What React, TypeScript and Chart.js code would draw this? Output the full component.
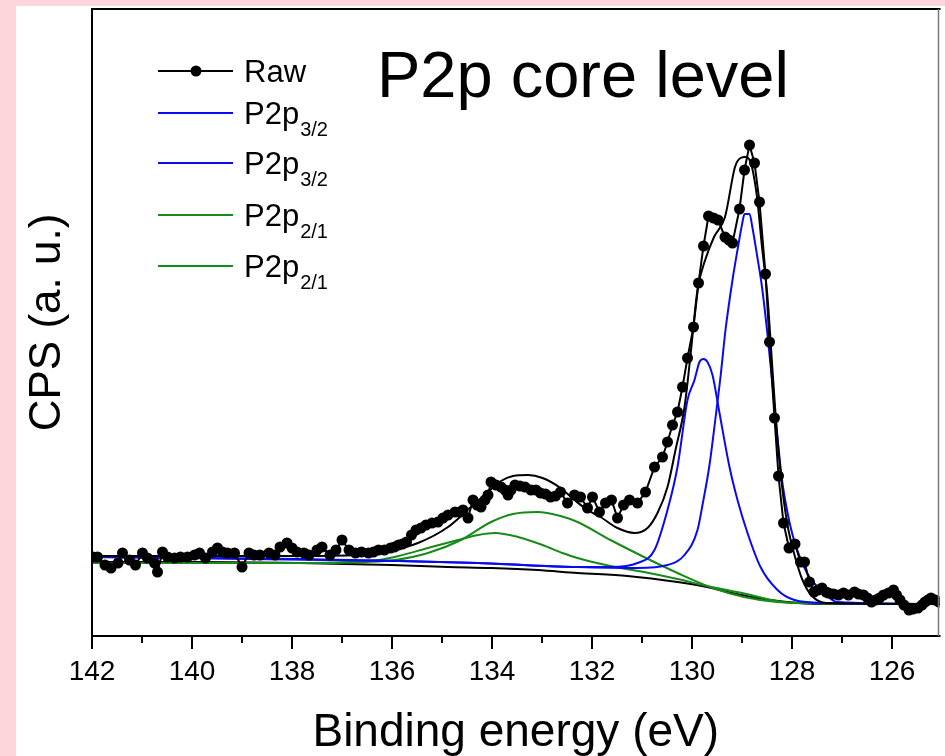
import React, { useEffect, useRef } from 'react';
import { Chart, registerables } from 'chart.js';

Chart.register(...registerables);

const FONT = '"Liberation Sans", Arial, Helvetica, sans-serif';

// X axis labels (binding energy, eV)
const majorTicks = [142, 140, 138, 136, 134, 132, 130, 128, 126];
const xMin = 125.05;
const xMax = 142;
const yMin = 0;
const yMax = 627;

// Raw spectrum
const rawEnergy = [141.98, 141.89, 141.74, 141.62, 141.48, 141.39, 141.25, 141.13, 140.99, 140.89, 140.75, 140.69, 140.59, 140.49, 140.35, 140.23, 140.09, 139.95, 139.85, 139.73, 139.59, 139.49, 139.39, 139.29, 139.15, 139.00, 138.86, 138.76, 138.64, 138.46, 138.34, 138.24, 138.10, 138.00, 137.90, 137.76, 137.66, 137.50, 137.40, 137.24, 137.12, 137.00, 136.86, 136.73, 136.61, 136.47, 136.37, 136.27, 136.15, 136.03, 135.95, 135.87, 135.79, 135.71, 135.61, 135.52, 135.42, 135.32, 135.20, 135.08, 134.98, 134.88, 134.74, 134.64, 134.58, 134.48, 134.38, 134.30, 134.22, 134.14, 134.08, 134.02, 133.92, 133.82, 133.74, 133.68, 133.62, 133.54, 133.44, 133.34, 133.22, 133.12, 133.03, 132.93, 132.83, 132.73, 132.63, 132.49, 132.35, 132.23, 132.09, 131.99, 131.85, 131.73, 131.61, 131.49, 131.37, 131.25, 131.09, 130.93, 130.75, 130.59, 130.49, 130.39, 130.29, 130.19, 130.09, 129.97, 129.87, 129.77, 129.67, 129.57, 129.48, 129.34, 129.26, 129.19, 129.05, 128.95, 128.85, 128.75, 128.65, 128.53, 128.45, 128.35, 128.27, 128.17, 128.06, 127.94, 127.83, 127.75, 127.65, 127.56, 127.48, 127.40, 127.32, 127.27, 127.17, 127.07, 126.97, 126.87, 126.75, 126.67, 126.57, 126.49, 126.41, 126.33, 126.25, 126.17, 126.07, 125.97, 125.91, 125.84, 125.76, 125.66, 125.58, 125.48, 125.40, 125.34, 125.28, 125.22, 125.14, 125.06];
const rawCPS = [79, 79, 71, 68, 73, 83, 76, 71, 83, 78, 73, 64, 84, 79, 78, 79, 79, 81, 83, 78, 84, 88, 84, 83, 83, 69, 83, 81, 81, 83, 81, 89, 93, 88, 84, 83, 81, 86, 89, 81, 86, 96, 86, 83, 84, 83, 84, 86, 86, 88, 89, 91, 92, 94, 101, 106, 108, 111, 113, 114, 118, 121, 124, 124, 126, 118, 136, 131, 129, 136, 141, 154, 151, 149, 146, 141, 146, 151, 150, 149, 146, 146, 143, 142, 139, 140, 144, 133, 141, 139, 128, 139, 124, 133, 136, 118, 131, 136, 133, 144, 169, 179, 194, 211, 224, 249, 278, 309, 353, 390, 420, 418, 416, 399, 396, 393, 427, 466, 491, 473, 434, 362, 294, 218, 160, 113, 88, 92, 74, 74, 54, 44, 46, 48, 44, 43, 42, 41, 43, 41, 44, 42, 41, 38, 34, 36, 38, 41, 43, 46, 41, 36, 31, 26, 27, 28, 31, 34, 36, 38, 36, 34];

// Fit envelope
const envEnergy = [142.0, 137.87, 136.67, 136.07, 135.48, 134.88, 134.38, 134.08, 133.82, 133.58, 133.28, 132.99, 132.63, 132.35, 132.09, 131.83, 131.49, 131.15, 130.89, 130.69, 130.49, 130.33, 130.15, 130.04, 129.89, 129.75, 129.56, 129.34, 129.14, 129.03, 128.93, 128.83, 128.70, 128.60, 128.49, 128.39, 128.29, 128.19, 128.09, 127.95, 127.79, 127.60, 127.31, 125.0];
const envCPS = [80, 80, 81, 85, 93, 109, 131, 144, 155, 160, 161, 158, 148, 136, 126, 119, 108, 103, 108, 123, 149, 186, 229, 276, 346, 374, 399, 419, 469, 478, 479, 474, 439, 389, 339, 266, 196, 146, 111, 81, 56, 40, 33, 32];

// Background
const bgEnergy = [142.0, 139.86, 137.87, 136.01, 134.88, 134.02, 133.09, 132.29, 131.29, 130.29, 129.70, 129.29, 128.70, 128.10, 127.51, 125.0];
const bgCPS = [74, 74, 73, 71, 69, 68, 66, 63, 60, 54, 49, 44, 38, 34, 32, 32];

// P2p 3/2 component (main, ~129.0 eV)
const p32aEnergy = [142.0, 135.87, 134.28, 132.29, 131.09, 130.49, 130.15, 129.89, 129.79, 129.65, 129.53, 129.43, 129.33, 129.19, 129.09, 128.99, 128.95, 128.85, 128.79, 128.70, 128.60, 128.50, 128.40, 128.30, 128.20, 128.08, 127.96, 127.70, 127.36, 127.10, 125.0];
const p32aCPS = [79, 75, 73, 69, 68, 71, 81, 106, 131, 171, 218, 259, 306, 356, 386, 414, 422, 422, 408, 381, 349, 306, 256, 204, 156, 121, 96, 63, 43, 34, 32];

// P2p 3/2 component (second, ~129.8 eV)
const p32bEnergy = [142.0, 137.87, 135.87, 134.28, 132.29, 131.63, 131.09, 130.75, 130.49, 130.29, 130.09, 129.95, 129.85, 129.77, 129.69, 129.59, 129.45, 129.25, 129.09, 128.89, 128.63, 128.29, 127.95, 127.31, 125.0];
const p32bCPS = [79, 77, 75, 73, 69, 69, 73, 86, 126, 169, 236, 256, 274, 277, 274, 261, 223, 169, 136, 103, 69, 46, 36, 33, 32];

// P2p 2/1 component (~133.0 eV)
const p21aEnergy = [142.0, 137.27, 136.61, 135.94, 135.28, 134.62, 134.02, 133.58, 133.09, 132.63, 132.29, 131.63, 130.96, 130.29, 129.64, 128.96, 128.30, 127.64, 125.0];
const p21aCPS = [73, 73, 74, 76, 83, 96, 114, 122, 124, 120, 114, 96, 79, 63, 49, 39, 34, 33, 32];

// P2p 2/1 component (~133.9 eV)
const p21bEnergy = [142.0, 137.87, 136.87, 136.27, 135.87, 135.28, 134.68, 134.28, 133.94, 133.48, 132.99, 132.59, 132.29, 131.63, 130.96, 130.29, 129.70, 129.0, 128.0, 125.0];
const p21bCPS = [73, 73, 74, 76, 80, 88, 96, 101, 103, 99, 91, 83, 78, 70, 64, 57, 50, 43, 33, 32];

const legendLabels = ['Raw', 'P2p', 'P2p', 'P2p', 'P2p'];
const legendSubs = ['', '3/2', '3/2', '2/1', '2/1'];
const legendColors = ['#000000', '#0a0aee', '#0a0aee', '#178a17', '#178a17'];
const chartTitle = 'P2p core level';

const pts = (xs: number[], ys: number[]) => xs.map((x, i) => ({ x, y: ys[i] }));

const overlayPlugin = {
  id: 'overlay',
  afterDraw(chart: any) {
    const ctx = chart.ctx;
    const area = chart.chartArea;
    const xs = chart.scales.x;
    ctx.save();
    // frame
    ctx.strokeStyle = '#000';
    ctx.lineWidth = 2;
    ctx.beginPath();
    ctx.moveTo(area.left, area.top);
    ctx.lineTo(area.left, area.bottom);
    ctx.moveTo(area.left - 1, area.bottom);
    ctx.lineTo(area.right + 1, area.bottom);
    ctx.moveTo(area.left - 1, area.top);
    ctx.lineTo(area.right + 1, area.top);
    ctx.stroke();
    ctx.strokeStyle = '#777';
    ctx.lineWidth = 1.5;
    ctx.beginPath();
    ctx.moveTo(area.right - 1, area.top);
    ctx.lineTo(area.right - 1, area.bottom);
    ctx.stroke();
    // ticks
    ctx.strokeStyle = '#000';
    ctx.lineWidth = 2;
    ctx.beginPath();
    for (let v = Math.ceil(xMin); v <= xMax; v++) {
      const px = Math.round(xs.getPixelForValue(v));
      const len = majorTicks.includes(v) ? 13 : 7;
      ctx.moveTo(px, area.bottom);
      ctx.lineTo(px, area.bottom + len);
    }
    ctx.stroke();

    // title inside plot
    ctx.fillStyle = '#000';
    ctx.textBaseline = 'alphabetic';
    ctx.textAlign = 'left';
    ctx.font = `65px ${FONT}`;
    ctx.fillText(chartTitle, 377, 97);

    // legend
    const rows = [71, 113, 163, 215, 266];
    for (let i = 0; i < legendLabels.length; i++) {
      const y = rows[i];
      ctx.strokeStyle = legendColors[i];
      ctx.lineWidth = 2;
      ctx.beginPath();
      ctx.moveTo(158, y);
      ctx.lineTo(233, y);
      ctx.stroke();
      if (i === 0) {
        ctx.fillStyle = '#000';
        ctx.beginPath();
        ctx.arc(196, y, 5.5, 0, Math.PI * 2);
        ctx.fill();
      }
      ctx.fillStyle = '#000';
      ctx.font = `31px ${FONT}`;
      ctx.fillText(legendLabels[i], 244, y + 11);
      if (legendSubs[i]) {
        const w = ctx.measureText(legendLabels[i]).width;
        ctx.font = `20px ${FONT}`;
        ctx.fillText(legendSubs[i], 244 + w + 1, y + 23);
      }
    }
    ctx.restore();
  },
};

export default function App() {
  const canvasRef = useRef<HTMLCanvasElement | null>(null);

  useEffect(() => {
    const canvas = canvasRef.current;
    if (!canvas) return;
    const lineDs = (label: string, xs: number[], ys: number[], color: string) => ({
      label,
      data: pts(xs, ys),
      borderColor: color,
      backgroundColor: color,
      borderWidth: 2,
      pointRadius: 0,
      tension: 0.4,
      cubicInterpolationMode: 'monotone' as const,
      fill: false,
    });
    const chart = new Chart(canvas, {
      type: 'line',
      data: {
        datasets: [
          {
            label: 'Raw',
            data: pts(rawEnergy, rawCPS),
            borderColor: '#000',
            backgroundColor: '#000',
            borderWidth: 2,
            pointRadius: 5.5,
            pointBorderWidth: 0,
            pointBackgroundColor: '#000',
            tension: 0,
            fill: false,
          },
          lineDs('Envelope', envEnergy, envCPS, '#000000'),
          lineDs('P2p3/2', p32aEnergy, p32aCPS, legendColors[1]),
          lineDs('P2p3/2', p32bEnergy, p32bCPS, legendColors[2]),
          lineDs('P2p2/1', p21aEnergy, p21aCPS, legendColors[3]),
          lineDs('P2p2/1', p21bEnergy, p21bCPS, legendColors[4]),
          lineDs('Background', bgEnergy, bgCPS, '#000000'),
        ],
      },
      options: {
        responsive: false,
        animation: false,
        layout: { padding: { top: 9, right: 1, left: 0, bottom: 0 } },
        plugins: {
          legend: { display: false },
          tooltip: { enabled: false },
          title: { display: false },
        },
        scales: {
          x: {
            type: 'linear',
            reverse: true,
            min: xMin,
            max: xMax,
            afterFit: (s: any) => { s.height = 120; s.paddingLeft = 0; s.paddingRight = 0; },
            grid: { display: false, drawTicks: false },
            border: { display: false },
            ticks: {
              stepSize: 1,
              includeBounds: false,
              autoSkip: false,
              maxRotation: 0,
              padding: 19,
              color: '#000',
              font: { family: FONT, size: 28 },
              callback: (v: any) => (Number.isInteger(v) && majorTicks.includes(v) ? String(v) : ''),
            },
            title: {
              display: true,
              text: 'Binding energy (eV)',
              color: '#000',
              font: { family: FONT, size: 46, lineHeight: 1 },
              padding: { top: 0, bottom: 0 },
            },
          },
          y: {
            type: 'linear',
            min: yMin,
            max: yMax,
            afterFit: (s: any) => { s.width = 92; s.paddingTop = 0; s.paddingBottom = 0; },
            grid: { display: false, drawTicks: false },
            border: { display: false },
            ticks: { display: false },
            title: {
              display: true,
              text: 'CPS (a. u.)',
              color: '#000',
              font: { family: FONT, size: 44, lineHeight: 1 },
              padding: { top: 26, bottom: 0 },
            },
          },
        },
      },
      plugins: [overlayPlugin],
    });
    return () => chart.destroy();
  }, []);

  return (
    <div style={{ position: 'fixed', left: 0, top: 0, width: 945, height: 756, background: '#fcd6da', overflow: 'hidden' }}>
      <div style={{ position: 'absolute', left: 16, top: 6, right: 0, bottom: 0, background: '#ffffff' }} />
      <canvas ref={canvasRef} width={945} height={756} style={{ position: 'absolute', left: 0, top: 0, width: 945, height: 756 }} />
    </div>
  );
}
